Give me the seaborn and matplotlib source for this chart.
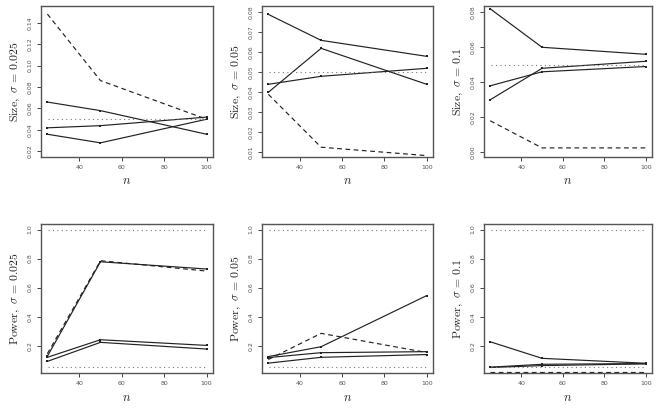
import numpy as np
import pandas as pd
import matplotlib.pyplot as plt
import seaborn as sns

# sample sizes on the x axis
n_values = [25, 50, 100]
sigma_labels = ['0.025', '0.05', '0.1']
methods = ['m1', 'm2', 'm3', 'm4']  # m4 is the dashed one

# empirical size, one row per method (m1, m2, m3, m4)
size_s025 = [[0.066, 0.058, 0.036],
             [0.042, 0.044, 0.052],
             [0.036, 0.028, 0.050],
             [0.148, 0.086, 0.050]]
size_s05 = [[0.079, 0.066, 0.058],
            [0.040, 0.062, 0.044],
            [0.044, 0.048, 0.052],
            [0.039, 0.0125, 0.0083]]
size_s1 = [[0.082, 0.060, 0.056],
           [0.038, 0.046, 0.049],
           [0.030, 0.048, 0.052],
           [0.018, 0.0025, 0.0025]]

# empirical power
power_s025 = [[0.127, 0.778, 0.728],
              [0.120, 0.241, 0.202],
              [0.092, 0.223, 0.177],
              [0.145, 0.785, 0.714]]
power_s05 = [[0.125, 0.193, 0.545],
             [0.118, 0.152, 0.159],
             [0.080, 0.120, 0.139],
             [0.105, 0.285, 0.153]]
power_s1 = [[0.227, 0.113, 0.079],
            [0.052, 0.072, 0.077],
            [0.050, 0.063, 0.075],
            [0.020, 0.020, 0.020]]

nominal_level = 0.05
max_power = 1.0

size_ylims = [(0.0148, 0.1555), (0.0076, 0.0832), (-0.0027, 0.0836)]
size_yticks = [np.arange(0.02, 0.141, 0.02), np.arange(0.01, 0.081, 0.01),
               np.arange(0.0, 0.081, 0.02)]


def to_long(values):
    rows = []
    for m, vals in zip(methods, values):
        for n, v in zip(n_values, vals):
            rows.append({'n': n, 'value': v, 'method': m})
    return pd.DataFrame(rows)


def draw_panel(ax, values, ylabel, hlines, ylim, yticks, ytickfmt):
    df = to_long(values)
    solid = df[df['method'] != 'm4']
    dashed = df[df['method'] == 'm4']
    sns.lineplot(data=solid, x='n', y='value', units='method', estimator=None,
                 ax=ax, color='#222222', linewidth=0.85, legend=False,
                 marker='s', markersize=2.0, markeredgewidth=0)
    sns.lineplot(data=dashed, x='n', y='value', ax=ax, color='#222222',
                 linewidth=0.85, legend=False, linestyle=(0, (4, 3)))
    for h in hlines:
        ax.axhline(h, xmin=0.04, xmax=0.96, color='#777777', linestyle=(0, (1, 3)),
                   linewidth=0.8)
    ax.set_xlim(22, 103)
    ax.set_ylim(*ylim)
    ax.set_xticks([40, 60, 80, 100])
    ax.set_yticks(yticks)
    ax.set_yticklabels([ytickfmt.format(t) for t in yticks], rotation=90,
                       va='center')
    ax.tick_params(labelsize=4.5, colors='#444444', length=3, width=0.7,
                   labelcolor='#555555', pad=3)
    ax.set_xlabel(r'$n$', fontsize=9, labelpad=3)
    ax.set_ylabel(ylabel, fontsize=8.5, labelpad=4)
    for sp in ax.spines.values():
        sp.set_visible(True)
        sp.set_color('#555555')
        sp.set_linewidth(1.0)


sns.set_theme(style='ticks')
plt.rcParams['mathtext.fontset'] = 'cm'
plt.rcParams['font.family'] = ['DejaVu Sans']

fig = plt.figure(figsize=(6.58, 4.11), dpi=100)
lefts = [41 / 658, 262 / 658, 484 / 658]
widths = [172 / 658, 171 / 658, 168 / 658]

size_data = [size_s025, size_s05, size_s1]
power_data = [power_s025, power_s05, power_s1]

for i in range(3):
    ax = fig.add_axes([lefts[i], 1 - 157 / 411, widths[i], 151 / 411])
    draw_panel(ax, size_data[i],
               r'$\mathrm{Size},\ \sigma\,=\,' + sigma_labels[i] + '$',
               [nominal_level], size_ylims[i], size_yticks[i], '{:.2f}')

    ax = fig.add_axes([lefts[i], 1 - 373 / 411, widths[i], 149 / 411])
    draw_panel(ax, power_data[i],
               r'$\mathrm{Power},\ \sigma\,=\,' + sigma_labels[i] + '$',
               [nominal_level, max_power], (0.012, 1.038),
               [0.2, 0.4, 0.6, 0.8, 1.0], '{:.1f}')

fig.savefig('out.png', dpi=100)
